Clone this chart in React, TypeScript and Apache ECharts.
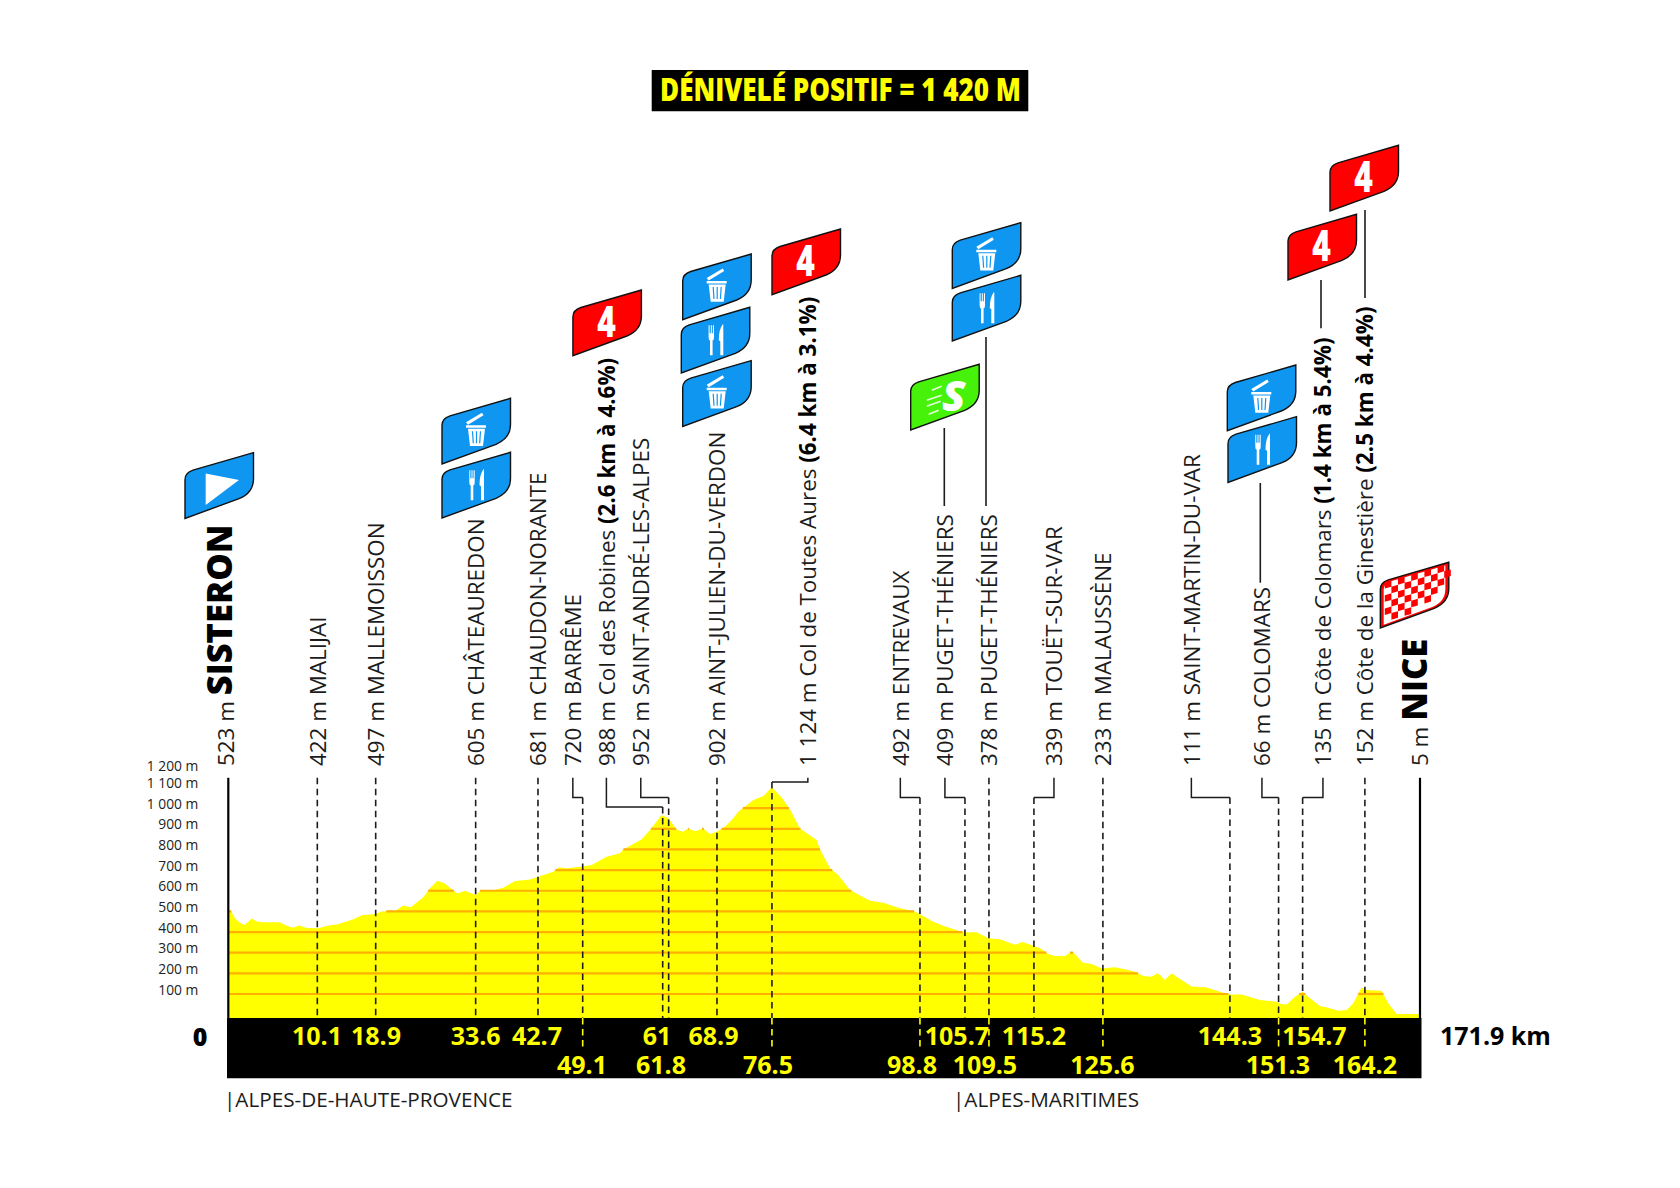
import React, { useEffect, useRef } from "react";
import * as echarts from "echarts";

const FONT = "'Open Sans', sans-serif";

// ---- elevation profile (position along the drawn axis, km / altitude, m)
const profileKm = [0, 0.39, 0.97, 1.69, 2.31, 2.89, 3.37, 4.18, 5.05, 7.46, 8.18, 9.28, 10.24, 11.3, 12.98, 14.42, 15.63, 16.83, 18.03, 19.24, 21.16, 22.13, 24.05, 25.24, 26.31, 28.13, 29.09, 30.15, 31.11, 33.03, 34.14, 35.73, 36.3, 38.22, 39.67, 41.35, 43.52, 44.71, 46.88, 47.6, 48.81, 51.12, 52.42, 54.58, 56.5, 56.98, 59.62, 60.82, 62.51, 63.47, 64.67, 65.54, 66.35, 67.32, 68.51, 69.48, 70.44, 71.64, 72.84, 73.56, 75.73, 77.17, 78.42, 79.82, 81.02, 82.46, 84.87, 85.35, 86.79, 87.98, 89.67, 92.56, 94.48, 96.88, 99.05, 101.69, 103.13, 106.01, 107.95, 109.62, 111.31, 112.27, 113.47, 114.58, 116.11, 117.08, 118.28, 119.24, 120.68, 121.65, 122.13, 123.24, 124.53, 125.98, 127.9, 129.34, 130.78, 131.98, 133.19, 134, 134.39, 135.1, 136.07, 136.79, 138.96, 141.12, 143.04, 144.48, 146.17, 148.81, 151.22, 151.94, 152.75, 153.86, 154.97, 155.78, 157.46, 158.66, 160.1, 161.31, 162.27, 163.47, 164.2, 166.36, 167.32, 168.52, 171.9];
const profileM = [507, 503, 466, 445, 434, 450, 466, 450, 447, 447, 434, 421, 432, 420, 418, 432, 437, 449, 462, 481, 487, 499, 502, 529, 520, 568, 612, 649, 638, 587, 600, 579, 600, 602, 615, 647, 655, 668, 692, 712, 709, 717, 725, 765, 781, 800, 849, 894, 967, 951, 897, 886, 901, 888, 902, 875, 886, 910, 951, 983, 1040, 1059, 1101, 1052, 994, 902, 846, 801, 709, 676, 604, 552, 542, 515, 499, 450, 431, 399, 399, 370, 365, 353, 339, 352, 334, 321, 294, 284, 284, 305, 294, 252, 245, 224, 229, 220, 208, 187, 184, 200, 192, 168, 200, 184, 136, 131, 111, 98, 98, 71, 63, 50, 50, 87, 111, 87, 42, 34, 19, 23, 55, 131, 119, 116, 55, 3, 3];
const levelM = [100, 200, 300, 400, 500, 600, 700, 800, 900, 1000];

// ---- waypoints
const wpAlt = ["523 m", "422 m", "497 m", "605 m", "681 m", "720 m", "988 m", "952 m", "902 m", "1 124 m", "492 m", "409 m", "378 m", "339 m", "233 m", "111 m", "66 m", "135 m", "152 m", "5 m"];
const wpName = ["SISTERON", "MALIJAI", "MALLEMOISSON", "CHÂTEAUREDON", "CHAUDON-NORANTE", "BARRÊME", "Col des Robines", "SAINT-ANDRÉ-LES-ALPES", "AINT-JULIEN-DU-VERDON", "Col de Toutes Aures", "ENTREVAUX", "PUGET-THÉNIERS", "PUGET-THÉNIERS", "TOUËT-SUR-VAR", "MALAUSSÈNE", "SAINT-MARTIN-DU-VAR", "COLOMARS", "Côte de Colomars", "Côte de la Ginestière", "NICE"];
const wpClimb = ["", "", "", "", "", "", "(2.6 km à 4.6%)", "", "", "(6.4 km à 3.1%)", "", "", "", "", "", "", "", "(1.4 km à 5.4%)", "(2.5 km à 4.4%)", ""];
// where the dashed line meets the profile / where its label stands (km on the drawn axis)
const wpFootKm = [0, 12.84, 21.26, 35.68, 44.67, 51.12, 62.66, 63.52, 70.49, 78.42, 99.77, 106.26, 109.72, 116.21, 126.16, 144.48, 151.5, 154.97, 163.95, 171.9];
const wpLabelKm = [0, 12.84, 21.26, 35.68, 44.67, 49.7, 54.54, 59.5, 70.49, 83.6, 96.94, 103.37, 109.72, 119.1, 126.16, 138.92, 149.1, 157.9, 163.95, 171.9];
// altitude on the axis at which the leader bends
const wpElbowM = [1147, 1147, 1147, 1147, 1147, 1052, 1005, 1052, 1147, 1127, 1052, 1052, 1147, 1052, 1147, 1052, 1052, 1052, 1147, 1147];
// does the dashed line carry on, in yellow, into the black band?
const wpBandDash = [0, 0, 0, 0, 0, 1, 0, 0, 0, 1, 1, 0, 1, 0, 1, 0, 1, 0, 1, 0];

// ---- kilometre marks in the black band
const kmText = ["10.1", "18.9", "33.6", "42.7", "49.1", "61", "61.8", "68.9", "76.5", "98.8", "105.7", "109.5", "115.2", "125.6", "144.3", "151.3", "154.7", "164.2"];
const kmPos = [12.79, 21.3, 35.68, 44.53, 51.02, 61.83, 62.41, 69.98, 77.85, 98.61, 105.1, 109.15, 116.2, 126.09, 144.48, 151.4, 156.68, 163.95];
const kmRow = [0, 0, 0, 0, 1, 0, 1, 0, 1, 1, 0, 1, 0, 1, 0, 1, 0, 1];

const titleText = "DÉNIVELÉ POSITIF = 1 420 M";
const totalText = "171.9 km";
const zeroText = "0";
const depts = ["|ALPES-DE-HAUTE-PROVENCE", "|ALPES-MARITIMES"];

// ---- pictogram shapes
const BADGE = "M0 65.7 L0 27 Q0 20 8 17.5 L68.5 0 L68.5 26 Q68.5 40 54 46 Z";
const TRASH =
  "M24 24 L40 14.5 L41.5 17 L26 26.5 Z M24 27 L44 27 L44 29.5 L24 29.5 Z M26 30.5 L43 30.5 L41 47.7 L28 47.7 Z";
const TRASH_STRIPES = "M30.5 33 L31.3 45 M34.5 33 L34.5 45 M38.5 33 L37.7 45";
const CUTLERY =
  "M27.3 18 L28.3 18 L28.3 26 L29.5 26 L29.5 18 L30.5 18 L30.5 26 L31.6 26 L31.6 18 L32.7 18 L32.7 30 Q32.7 33 31.3 33 L31.3 48 L28.7 48 L28.7 33 Q27.3 33 27.3 30 Z M41.5 17 Q37.5 22 37.5 33 L39 34 L39 48 L42 48 L42 17 Z";
const SPEED = "M21 26 L31 22 M16 36 L31 31 M16 42 L30 37 M18 50 L28 46";

function checkerPath(): string {
  const s = 6.6;
  let d = "";
  for (let c = 0; c < 10; c++) {
    for (let r = 0; r < 7; r++) {
      if ((c + r) % 2) continue;
      const x0 = 4.5 + c * s;
      const x1 = x0 + s;
      const y = (x: number, k: number) => 21 + k * s - 0.29 * x;
      const top = (x: number) => 20.5 - 0.283 * x;
      const bot = (x: number) => (x < 54 ? 63 - 0.35 * x : 44 - (x - 54) * 1.3);
      if (y(x0, r) < top(x0) || y(x1, r) < top(x1)) continue;
      if (y(x0, r + 1) > bot(x0) || y(x1, r + 1) > bot(x1)) continue;
      d += `M${x0} ${y(x0, r)} L${x1} ${y(x1, r)} L${x1} ${y(x1, r + 1)} L${x0} ${y(x0, r + 1)} Z `;
    }
  }
  return d;
}

const reg = (n: string, d: string) =>
  echarts.graphic.registerShape(n, echarts.graphic.extendPath(d, {}) as any);
reg("rsBadge", BADGE);
reg("rsTrash", TRASH);
reg("rsTrashStripes", TRASH_STRIPES);
reg("rsCutlery", CUTLERY);
reg("rsSpeed", SPEED);
reg("rsChecker", checkerPath());

const BLUE = "#0F96F0";
const RED = "#FF0000";
const GREEN = "#46F20A";
const YELLOW = "#FFFF00";
const ORANGE = "#FFB000";
const INK = "#1c1c1c";

function badge(x: number, y: number, fill: string, extra: any[] = []) {
  return {
    type: "group",
    x,
    y,
    z: 8,
    children: [
      { type: "rsBadge", shape: {}, style: { fill, stroke: "#111", lineWidth: 1.4 } },
      ...extra,
    ],
  };
}
const trash = () => [
  { type: "rsTrash", style: { fill: "#fff" } },
  { type: "rsTrashStripes", style: { fill: "none", stroke: BLUE, lineWidth: 1.2 } },
];
const cutlery = () => [{ type: "rsCutlery", style: { fill: "#fff" } }];
const four = () => [
  {
    type: "text",
    x: 33.5,
    y: 31.5,
    scaleX: 0.72,
    style: {
      text: "4",
      fontFamily: "'Liberation Sans', sans-serif",
      fontWeight: 700,
      fontSize: 42,
      fill: "#fff",
      stroke: "#fff",
      lineWidth: 2,
      align: "center",
      verticalAlign: "middle",
    },
  },
];
const start = () => [
  { type: "polygon", shape: { points: [[20.7, 20.7], [54, 27.3], [20.7, 52.3]] }, style: { fill: "#fff" } },
];
const sprint = () => [
  { type: "rsSpeed", style: { fill: "none", stroke: "#fff", lineWidth: 1.6, opacity: 0.85 } },
  {
    type: "text",
    x: 43,
    y: 30,
    style: {
      text: "S",
      fontFamily: FONT,
      fontWeight: 800,
      fontStyle: "italic",
      fontSize: 43,
      fill: "#fff",
      align: "center",
      verticalAlign: "middle",
    },
  },
];
const finish = () => [
  { type: "rsBadge", x: 3.4, y: 3.2, scaleX: 0.9, scaleY: 0.9, style: { fill: "#fff" } },
  { type: "rsChecker", style: { fill: RED } },
];

const connector = (x: number, y1: number, y2: number) => ({
  type: "line",
  z: 8,
  shape: { x1: x, y1, x2: x, y2 },
  style: { stroke: INK, lineWidth: 1.6 },
});

const plainText = (x: number, y: number, text: string, style: any, extra: any = {}) => ({
  type: "text",
  x,
  y,
  z: 8,
  ...extra,
  style: { text, fontFamily: FONT, verticalAlign: "middle", ...style },
});

export default function App() {
  const ref = useRef<HTMLDivElement>(null);
  useEffect(() => {
    document.body.style.margin = "0";
    document.body.style.background = "#fff";
    const chart = echarts.init(ref.current!, undefined, { renderer: "svg" });

    const renderLevels = (params: any, api: any) => {
      const level = levelM[params.dataIndex];
      const children: any[] = [];
      let from: number | null = profileM[0] > level ? profileKm[0] : null;
      const cross = (i: number) =>
        profileKm[i] +
        ((level - profileM[i]) / (profileM[i + 1] - profileM[i])) * (profileKm[i + 1] - profileKm[i]);
      const add = (a: number, b: number) => {
        const p = api.coord([a, level]);
        const q = api.coord([b, level]);
        children.push({
          type: "line",
          shape: { x1: p[0], y1: p[1], x2: q[0], y2: q[1] },
          style: { stroke: ORANGE, lineWidth: 2.2 },
        });
      };
      for (let i = 0; i < profileM.length - 1; i++) {
        const up = profileM[i] <= level && profileM[i + 1] > level;
        const down = profileM[i] > level && profileM[i + 1] <= level;
        if (up) from = cross(i);
        if (down && from !== null) {
          add(from, cross(i));
          from = null;
        }
      }
      return { type: "group", children };
    };

    const renderWaypoints = (params: any, api: any) => {
      const i = params.dataIndex;
      const foot = api.coord([wpFootKm[i], 0]);
      const labelX = api.coord([wpLabelKm[i], 0])[0];
      const topY = api.coord([0, 1147])[1];
      const elbowY = api.coord([0, wpElbowM[i]])[1];
      const bandTop = foot[1] + 3.3;
      const children: any[] = [];
      const isEnd = i === 0 || i === wpAlt.length - 1;
      if (isEnd) {
        children.push({
          type: "line",
          shape: { x1: labelX, y1: topY, x2: labelX, y2: bandTop },
          style: { stroke: "#000", lineWidth: 2.2 },
        });
      } else {
        if (labelX !== foot[0]) {
          children.push({
            type: "polyline",
            shape: { points: [[labelX, topY], [labelX, elbowY], [foot[0], elbowY]] },
            style: { fill: "none", stroke: INK, lineWidth: 1.5 },
          });
        }
        const dashTop = labelX !== foot[0] ? elbowY : topY;
        children.push({
          type: "line",
          shape: { x1: foot[0], y1: dashTop, x2: foot[0], y2: bandTop },
          style: { stroke: INK, lineWidth: 1.6, lineDash: [6.5, 4.5] },
        });
        if (wpBandDash[i]) {
          children.push({
            type: "line",
            shape: { x1: foot[0], y1: bandTop, x2: foot[0], y2: bandTop + 29 },
            style: { stroke: YELLOW, lineWidth: 1.6, lineDash: [6.5, 4.5] },
          });
        }
      }
      const city = isEnd;
      const climb = wpClimb[i];
      const text = city
        ? `{a|${wpAlt[i]} }{c|${wpName[i]}}`
        : climb
          ? `{a|${wpAlt[i]} ${wpName[i]} }{b|${climb}}`
          : `{a|${wpAlt[i]} ${wpName[i]}}`;
      const cityShift = i === 0 ? -9.5 : i === wpAlt.length - 1 ? -7 : 0;
      children.push({
        type: "text",
        x: labelX + cityShift,
        y: 766,
        rotation: Math.PI / 2,
        style: {
          text,
          fontFamily: FONT,
          align: "left",
          verticalAlign: "middle",
          rich: {
            a: { fontFamily: FONT, fontSize: 22.4, fill: INK, verticalAlign: "bottom" },
            b: { fontFamily: FONT, fontSize: 22.4, fontWeight: 700, fill: "#000", verticalAlign: "bottom" },
            c: { fontFamily: FONT, fontSize: 34.5, fontWeight: 800, fill: "#000", verticalAlign: "bottom" },
          },
        },
      });
      return { type: "group", children };
    };

    const renderKm = (params: any, api: any) => {
      const i = params.dataIndex;
      const p = api.coord([kmPos[i], 0]);
      return {
        type: "text",
        x: p[0],
        y: p[1] + (kmRow[i] ? 49.5 : 20.5),
        style: {
          text: kmText[i],
          fontFamily: FONT,
          fontWeight: 700,
          fontSize: 25,
          fill: YELLOW,
          align: "center",
          verticalAlign: "middle",
        },
      };
    };

    chart.setOption({
      animation: false,
      backgroundColor: "#fff",
      grid: { left: 228.3, right: 260, top: 766.85, height: 268.45, containLabel: false },
      xAxis: { type: "value", min: 0, max: 171.9, show: false },
      yAxis: {
        type: "value",
        min: -100,
        max: 1200,
        interval: 100,
        axisLine: { show: false },
        axisTick: { show: false },
        splitLine: { show: false },
        axisLabel: {
          margin: 30,
          fontFamily: FONT,
          fontSize: 13.8,
          color: "#222",
          verticalAlign: "bottom",
          lineHeight: 10,
          rich: { t: { fontFamily: FONT, fontSize: 13.8, color: "#222", lineHeight: 3 } },
          formatter: (v: number) => {
            if (v <= 0) return "";
            if (v === 1200) return "{t|1 200 m}";
            return v >= 1000 ? `1 ${String(v - 1000).padStart(3, "0")} m` : `${v} m`;
          },
        },
      },
      series: [
        {
          type: "line",
          data: profileKm.map((k, i) => [k, profileM[i]]),
          showSymbol: false,
          symbol: "none",
          lineStyle: { width: 0 },
          areaStyle: { color: YELLOW, opacity: 1, origin: "start" },
          z: 2,
          silent: true,
        },
        {
          type: "custom",
          data: levelM.map((v) => [0, v]),
          renderItem: renderLevels,
          z: 3,
          silent: true,
        },
        {
          type: "custom",
          data: wpFootKm.map((k, i) => [k, wpElbowM[i]]),
          renderItem: renderWaypoints,
          z: 5,
          silent: true,
        },
        {
          type: "custom",
          data: kmPos.map((k) => [k, 0]),
          renderItem: renderKm,
          z: 6,
          silent: true,
        },
      ],
      graphic: {
        elements: [
          { type: "rect", z: 4, shape: { x: 227, y: 1018, width: 1194.5, height: 60.3 }, style: { fill: "#000" } },
          { type: "rect", z: 4, shape: { x: 651.7, y: 70, width: 376.6, height: 41.3 }, style: { fill: "#000" } },
          plainText(840.5, 89, titleText, { fontSize: 31, fontWeight: 800, fill: YELLOW, align: "center" }, { scaleX: 0.84 }),
          plainText(200, 1036, zeroText, { fontSize: 25, fontWeight: 800, fill: "#000", align: "center" }),
          plainText(1440, 1035, totalText, { fontSize: 25, fontWeight: 700, fill: "#000", align: "left" }),
          plainText(224, 1099, depts[0], { fontSize: 20.7, fill: INK, align: "left" }),
          plainText(953, 1099, depts[1], { fontSize: 20.7, fill: INK, align: "left" }),
          connector(944.3, 428, 506),
          connector(986, 337, 506),
          connector(1260.3, 483, 582.7),
          connector(1321, 280, 328.3),
          connector(1365, 210, 298),
          badge(185, 452.7, BLUE, start()),
          badge(442, 398.3, BLUE, trash()),
          badge(442, 452.3, BLUE, cutlery()),
          badge(572.9, 290, RED, four()),
          badge(682.7, 254, BLUE, trash()),
          badge(681.3, 307.3, BLUE, cutlery()),
          badge(682.7, 360.7, BLUE, trash()),
          badge(772, 229, RED, four()),
          badge(910.7, 364.3, GREEN, sprint()),
          badge(952.3, 222.7, BLUE, trash()),
          badge(952.3, 275.3, BLUE, cutlery()),
          badge(1227.3, 365, BLUE, trash()),
          badge(1228, 416.7, BLUE, cutlery()),
          badge(1288, 214.3, RED, four()),
          badge(1330, 145.3, RED, four()),
          badge(1380.3, 562.3, RED, finish()),
        ],
      },
    });
    return () => chart.dispose();
  }, []);
  return <div ref={ref} style={{ width: 1680, height: 1188, overflow: "hidden" }} />;
}
